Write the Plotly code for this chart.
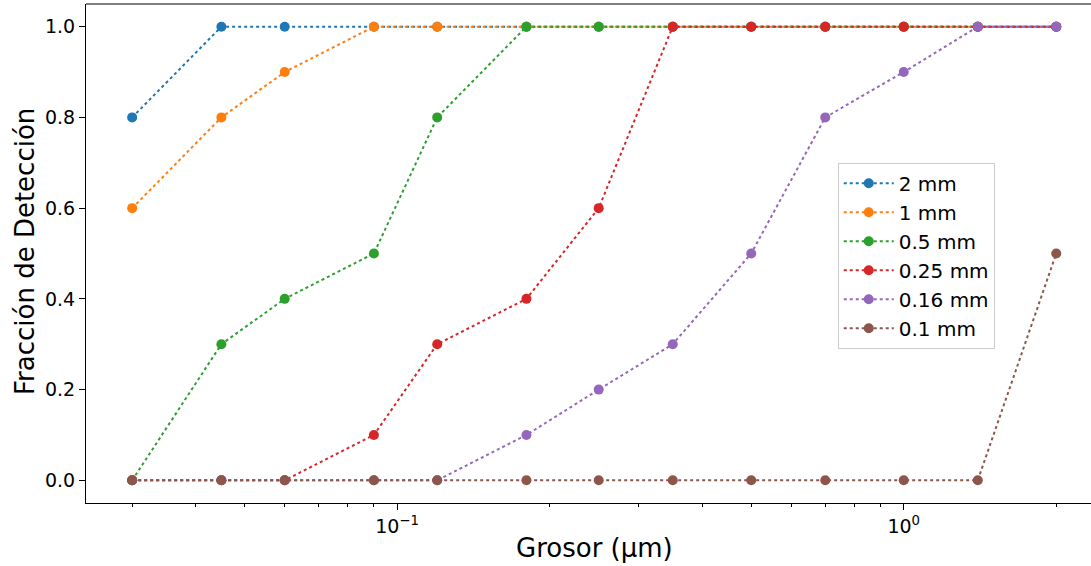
import plotly.graph_objects as go

grosor = [0.03, 0.045, 0.06, 0.09, 0.12, 0.18, 0.25, 0.35, 0.5, 0.7, 1.0, 1.4, 2.0]
series_names = ["2 mm", "1 mm", "0.5 mm", "0.25 mm", "0.16 mm", "0.1 mm"]
det_2mm = [0.8, 1, 1, 1, 1, 1, 1, 1, 1, 1, 1, 1, 1]
det_1mm = [0.6, 0.8, 0.9, 1, 1, 1, 1, 1, 1, 1, 1, 1, 1]
det_05mm = [0, 0.3, 0.4, 0.5, 0.8, 1, 1, 1, 1, 1, 1, 1, 1]
det_025mm = [0, 0, 0, 0.1, 0.3, 0.4, 0.6, 1, 1, 1, 1, 1, 1]
det_016mm = [0, 0, 0, 0, 0, 0.1, 0.2, 0.3, 0.5, 0.8, 0.9, 1, 1]
det_01mm = [0, 0, 0, 0, 0, 0, 0, 0, 0, 0, 0, 0, 0.5]
series_values = [det_2mm, det_1mm, det_05mm, det_025mm, det_016mm, det_01mm]
colors = ["#1f77b4", "#ff7f0e", "#2ca02c", "#d62728", "#9467bd", "#8c564b"]

y_ticks = [0.0, 0.2, 0.4, 0.6, 0.8, 1.0]
x_major = [0.1, 1.0]
x_major_text = ["10<sup>−1</sup>", "10<sup>0</sup>"]
x_minor = [0.03, 0.04, 0.05, 0.06, 0.07, 0.08, 0.09,
           0.2, 0.3, 0.4, 0.5, 0.6, 0.7, 0.8, 0.9, 2.0]

FONT = "DejaVu Sans"

fig = go.Figure()
for name, vals, col in zip(series_names, series_values, colors):
    fig.add_trace(go.Scatter(
        x=grosor, y=vals, name=name, mode="lines+markers",
        legendgroup=name,
        line=dict(color=col, width=2, dash="dot"),
        marker=dict(color=col, size=10),
    ))

fig.update_layout(
    width=1091, height=566,
    margin=dict(l=86, r=0, t=4, b=63, autoexpand=False),
    paper_bgcolor="white", plot_bgcolor="white",
    font=dict(family=FONT, color="black", size=19),
    showlegend=True,
    legend=dict(
        x=0.748, y=0.682, xanchor="left", yanchor="top",
        font=dict(family=FONT, size=20, color="black"),
        bordercolor="#cccccc", borderwidth=1,
        bgcolor="rgba(255,255,255,0.8)",
        traceorder="grouped", tracegroupgap=0,
        itemwidth=50,
    ),
    xaxis=dict(
        type="log", automargin=False,
        range=[-1.614, 0.3696],
        tickmode="array", tickvals=x_major, ticktext=x_major_text,
        ticks="outside", ticklen=6, tickwidth=1, tickcolor="black",
        showline=True, linecolor="black", linewidth=1,
        showgrid=False, zeroline=False,
        tickfont=dict(family=FONT, size=19),
        minor=dict(tickmode="array", tickvals=x_minor, ticks="outside",
                   ticklen=3, tickwidth=1, tickcolor="black", showgrid=False),
    ),
    yaxis=dict(
        automargin=False,
        range=[-0.05, 1.05],
        tickmode="array", tickvals=y_ticks, tickformat=".1f",
        ticks="outside", ticklen=6, tickwidth=1, tickcolor="black",
        showline=True, linecolor="black", linewidth=1,
        showgrid=False, zeroline=False,
        tickfont=dict(family=FONT, size=19),
    ),
    annotations=[
        dict(text="Grosor (µm)", xref="paper", yref="paper", x=0.5055, y=-0.091,
             xanchor="center", yanchor="middle", showarrow=False,
             font=dict(family=FONT, size=26, color="black")),
        dict(text="Fracción de Detección", xref="paper", yref="paper", x=-0.0607, y=0.505,
             xanchor="center", yanchor="middle", showarrow=False, textangle=-90,
             font=dict(family=FONT, size=26, color="black")),
    ],
    shapes=[dict(type="line", xref="paper", yref="paper", x0=0, x1=1, y0=1, y1=1,
                 line=dict(color="#555555", width=1.5))],
)

fig.write_html(
    "out.html",
    config={"displayModeBar": False},
    post_script="document.body.style.margin='0';document.body.style.overflow='hidden';",
)
